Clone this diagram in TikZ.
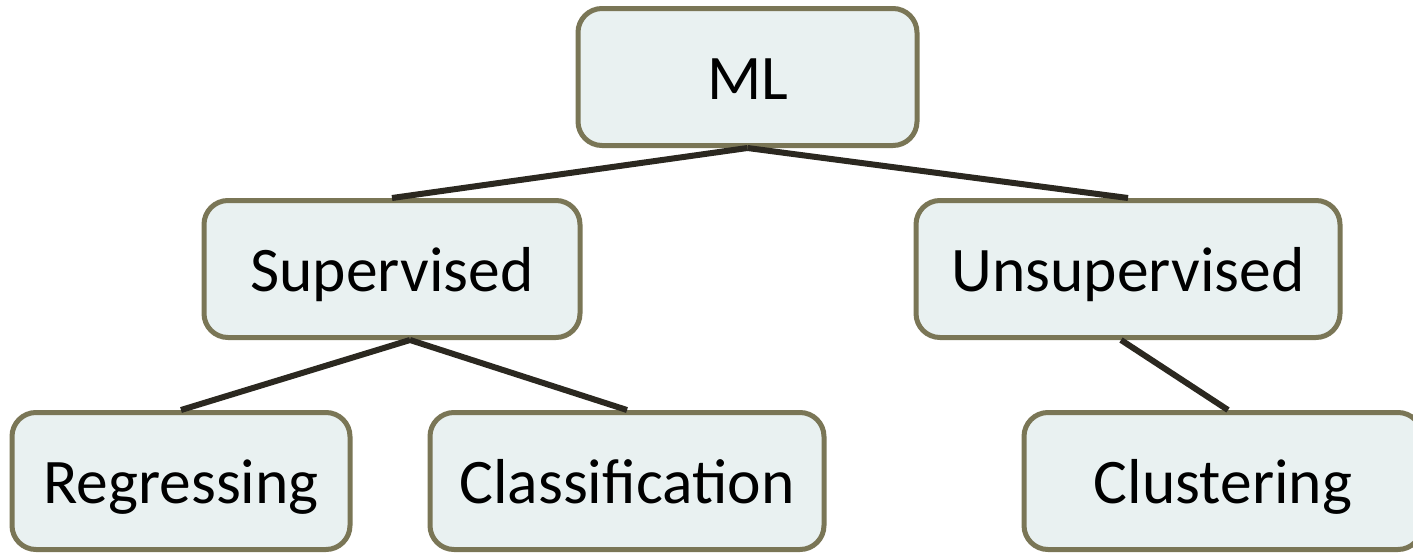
\documentclass[tikz,border=0pt]{standalone}
\usepackage{fontspec}
\setmainfont{Carlito}
\definecolor{boxfill}{HTML}{E9F1F1}
\definecolor{boxline}{HTML}{7A7656}
\definecolor{linkcol}{HTML}{2B2820}
\begin{document}
\begin{tikzpicture}[x=1pt,y=-1pt,
  box/.style={draw=boxline, fill=boxfill, line width=5pt, rounded corners=24pt,
    minimum height=137pt, inner sep=0pt, text depth=0pt, text height=44pt,
    font=\fontsize{63.5}{76}\selectfont},
  link/.style={draw=linkcol, line width=6pt}]
\useasboundingbox (0,0) rectangle (1413,552);
% tree nodes
\node[box, minimum width=339pt] (ml)  at (747.5,77)  {ML};
\node[box, minimum width=376pt] (sup) at (392,269)   {Supervised};
\node[box, minimum width=424pt] (uns) at (1128,269)  {Unsupervised};
\node[box, minimum width=338pt] (reg) at (181,481)   {Regressing};
\node[box, minimum width=394pt] (cls) at (627,481)   {Classification};
\node[box, minimum width=398pt] (clu) at (1223,481)  {Clustering};
% off-centre attachment points on box edges
\coordinate (supjoin) at ([xshift=18pt]sup.south);
\coordinate (unsjoin) at ([xshift=-7pt]uns.south);
\coordinate (clutop)  at ([xshift=5pt]clu.north);
% connectors
\draw[link] (ml.south) -- (sup.north);
\draw[link] (ml.south) -- (uns.north);
\draw[link] (supjoin) -- (reg.north);
\draw[link] (supjoin) -- (cls.north);
\draw[link] (unsjoin) -- (clutop);
\end{tikzpicture}
\end{document}
